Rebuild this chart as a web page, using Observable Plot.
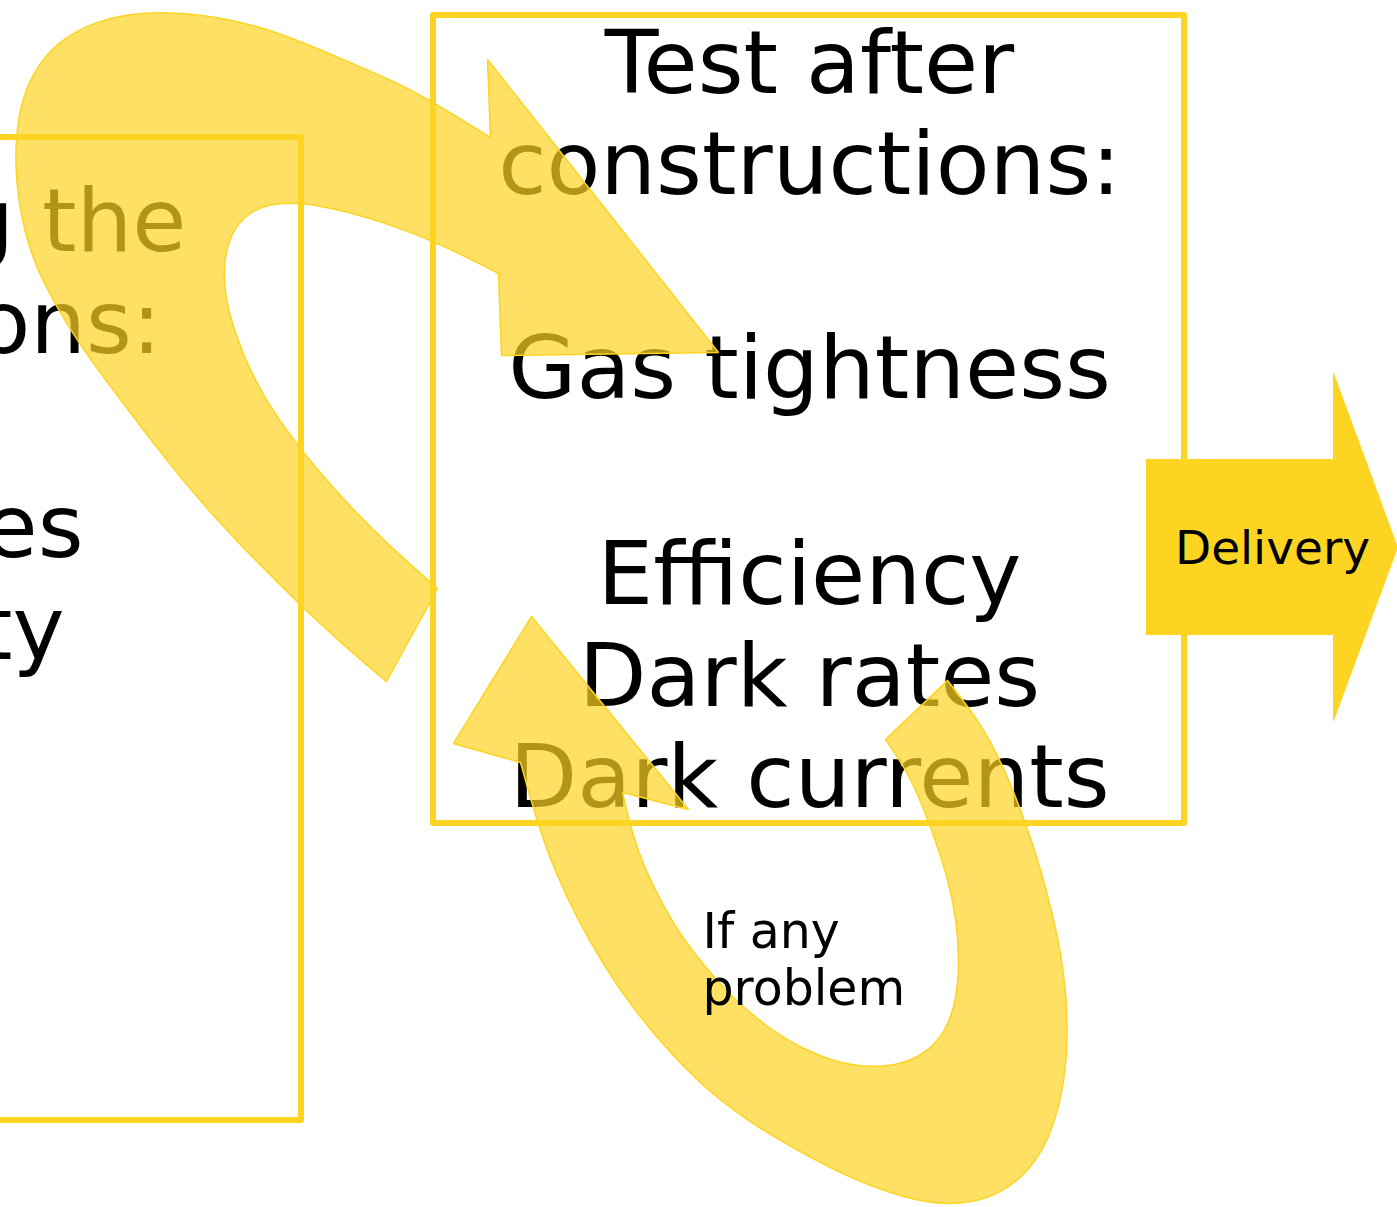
<!DOCTYPE html>
<html>
<head>
<meta charset="utf-8">
<script src="https://cdn.jsdelivr.net/npm/d3@7"></script>
<script src="https://cdn.jsdelivr.net/npm/@observablehq/plot@0.6"></script>
<style>
  html, body { margin: 0; padding: 0; background: #fff; overflow: hidden; }
  #chart svg { display: block; }
</style>
</head>
<body>
<div id="chart"></div>
<script>
// ---------- data ----------
const yellow = "#FDD422";

// frames (left one is cut by the page edge)
const boxNames = ["left", "middle"];
const boxX1 = [-20, 433];
const boxX2 = [301, 1184];
const boxY1 = [137, 15];
const boxY2 = [1120, 823];

// text inside the middle frame
const middleLines = ["Test after", "constructions:", "Gas tightness", "Efficiency", "Dark rates", "Dark currents"];
const middleBaselines = [92, 193, 397, 603, 705, 806];
const middleCenterX = 809;

// visible remains of the left frame's text
const leftLines = ["g the", "ons:", "es", "ty"];
const leftBaselines = [250, 352, 556, 658];
const leftLineEnds = [186, 161, 83, 64];

// note under the loop arrow
const problemLines = ["If any", "problem"];
const problemBaselines = [947, 1004];
const problemStartX = 702;

// delivery arrow
const deliveryLabel = "Delivery";
const deliveryOutline = [[1146,459],[1333,459],[1333,373],[1397,547],[1333,720],[1333,634],[1146,634],[1146,459]];
const deliveryLabelPos = [1272, 563];

// big curved arrow (from lower left, over the top, into the test frame); 1 = sharp corner
const topArrowOutline = [
  [386,681,1],[340,642],[297,602],[255,560],[217,520],[180,477],[147,435],[113,390],[83,350],[55,305],
  [33,262],[20,215],[14,165],[17,115],[30,75],[55,42],[95,20],[143,11],[200,13],[267,27],[333,55],
  [400,83],[450,112],[490,137,1],
  [487,59,1],[718,352,1],[501,355,1],[498,273,1],
  [465,256],[433,241],[400,228],[367,217],[333,208],[300,202],[270,203],[248,212],[232,230],[224,255],
  [223,285],[230,320],[245,360],[265,400],[297,445],[330,485],[370,527],[405,560],[437,588,1],[386,681,1]
];

// loop arrow ("If any problem") going back up into the test frame
const loopArrowOutline = [
  [947,680,1],[885,739,1],
  [905,768],[920,800],[935,840],[948,880],[956,920],[959,960],[956,1000],[945,1032],[925,1053],[900,1064],
  [871,1067],[840,1063],[805,1050],[768,1028],[735,1000],[705,967],[680,935],[660,900],[645,870],[632,835],
  [622,792,1],
  [688,809,1],[531,616,1],[453,743,1],[520,762,1],
  [538,827],[555,872],[576,917],[603,965],[634,1010],[670,1053],[710,1093],[757,1127],[806,1155],[855,1180],
  [902,1197],[945,1205],[985,1200],[1017,1182],[1040,1155],[1055,1120],[1064,1080],[1067,1040],[1066,995],
  [1060,950],[1051,910],[1040,868],[1025,822],[1005,770],[980,722],[947,680,1]
];

// ---------- build tables ----------
const boxes = boxNames.map((name, i) => ({name, x1: boxX1[i], x2: boxX2[i], y1: boxY1[i], y2: boxY2[i]}));
const middleText = middleLines.map((text, i) => ({text, x: middleCenterX, y: middleBaselines[i]}));
const leftText = leftLines.map((text, i) => ({text, x: leftLineEnds[i], y: leftBaselines[i]}));
const problemText = problemLines.map((text, i) => ({text, x: problemStartX, y: problemBaselines[i]}));
function outline(arr, id) {
  const out = [];
  for (const [x, y, corner] of arr) {
    const n = corner ? 3 : 1;
    for (let k = 0; k < n; k++) out.push({x, y, id});
  }
  return out;
}
const topArrow = outline(topArrowOutline, "top");
const loopArrow = outline(loopArrowOutline, "loop");
const delivery = deliveryOutline.map(([x, y]) => ({x, y}));

// ---------- plot ----------
const W = 1397, H = 1207;
const font = "DejaVu Sans, Verdana, sans-serif";

const chart = Plot.plot({
  width: W,
  height: H,
  margin: 0,
  x: {domain: [0, W], range: [0, W], axis: null},
  y: {domain: [0, H], range: [0, H], axis: null},
  style: {fontFamily: font, background: "white", overflow: "hidden"},
  marks: [
    Plot.rect(boxes, {x1: "x1", x2: "x2", y1: "y1", y2: "y2", fill: "none", stroke: yellow, strokeWidth: 6, strokeLinejoin: "round"}),
    Plot.text(middleText, {x: "x", y: "y", text: "text", fontSize: 88, textAnchor: "middle", lineAnchor: "bottom", fill: "black"}),
    Plot.text(leftText, {x: "x", y: "y", text: "text", fontSize: 88, textAnchor: "end", lineAnchor: "bottom", fill: "black"}),
    Plot.line(topArrow, {x: "x", y: "y", curve: "basis", fill: yellow, fillOpacity: 0.7, stroke: yellow, strokeWidth: 1.5, strokeLinejoin: "miter"}),
    Plot.line(loopArrow, {x: "x", y: "y", curve: "basis", fill: yellow, fillOpacity: 0.7, stroke: yellow, strokeWidth: 1.5, strokeLinejoin: "miter"}),
    Plot.line(delivery, {x: "x", y: "y", curve: "linear", fill: yellow, stroke: yellow, strokeWidth: 1, strokeLinejoin: "miter"}),
    Plot.text([deliveryLabel], {x: () => deliveryLabelPos[0], y: () => deliveryLabelPos[1], text: d => d, fontSize: 47, textAnchor: "middle", lineAnchor: "bottom", fill: "black"}),
    Plot.text(problemText, {x: "x", y: "y", text: "text", fontSize: 49, textAnchor: "start", lineAnchor: "bottom", fill: "black"})
  ]
});
document.getElementById("chart").appendChild(chart);
</script>
</body>
</html>
